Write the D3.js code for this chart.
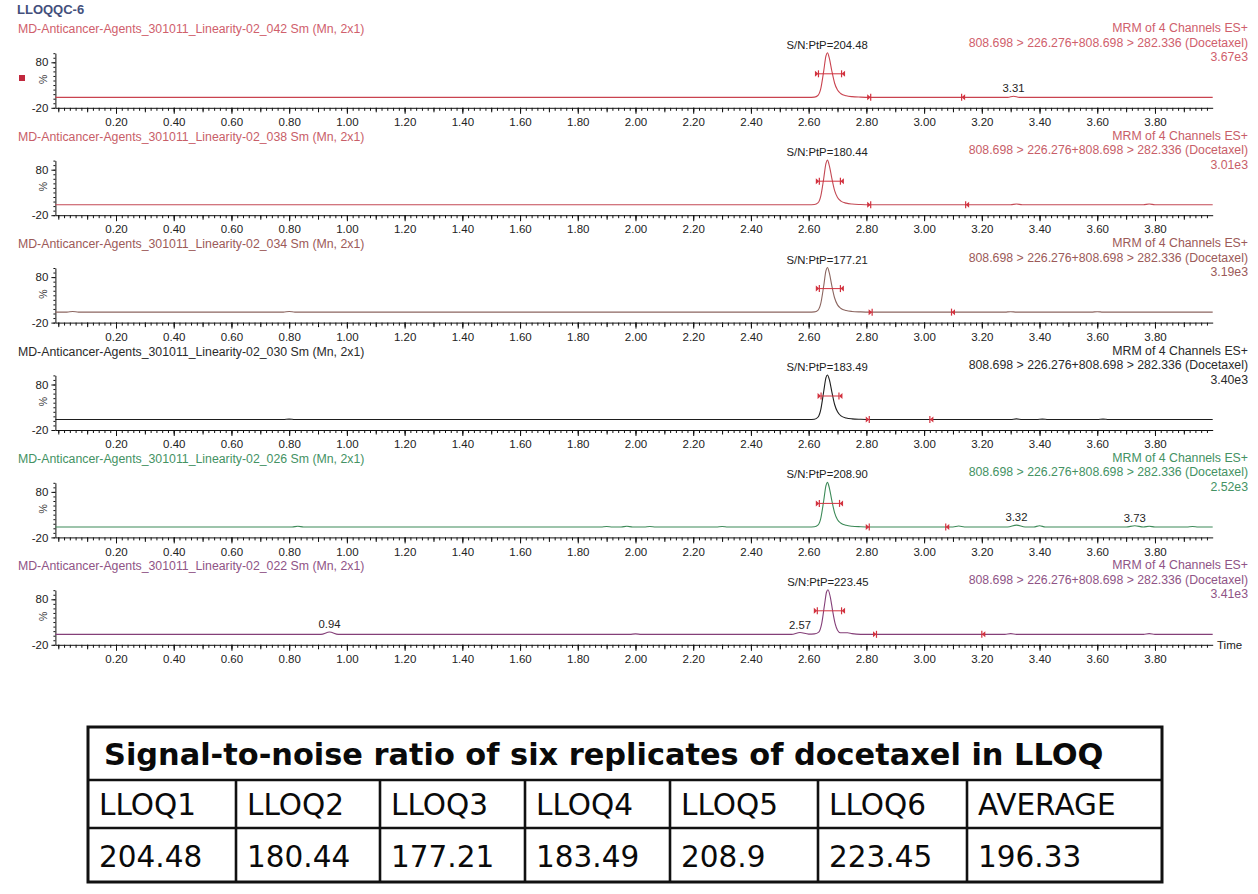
<!DOCTYPE html>
<html><head><meta charset="utf-8">
<script src="https://cdn.jsdelivr.net/npm/d3@7"></script>
<style>body{margin:0;background:#fff}svg{display:block}</style>
</head><body>
<svg id="c" width="1258" height="894"></svg>
<script>
// ---------------- DATA ----------------
const sampleTitle = "LLOQQC-6";
const runIds = ["042", "038", "034", "030", "026", "022"];
const channelName = "MRM of 4 Channels ES+";
const transition = "808.698 > 226.276+808.698 > 282.336 (Docetaxel)";
const intensities = ["3.67e3", "3.01e3", "3.19e3", "3.40e3", "2.52e3", "3.41e3"];
const snValues = ["204.48", "180.44", "177.21", "183.49", "208.90", "223.45"];
const peakApex = [2.664, 2.664, 2.664, 2.664, 2.664, 2.667];
const windowStart = [2.634, 2.637, 2.637, 2.643, 2.637, 2.630];
const windowEnd = [2.714, 2.710, 2.710, 2.705, 2.707, 2.714];
const baselineStart = [2.815, 2.815, 2.82, 2.81, 2.81, 2.835];
const baselineEnd = [3.13, 3.144, 3.095, 3.02, 3.075, 3.20];
const peakLabels = [
  [["3.31", 3.31]],
  [],
  [],
  [],
  [["3.32", 3.32], ["3.73", 3.73]],
  [["0.94", 0.94], ["2.57", 2.57]]
];
const xTickLabels = ["0.20","0.40","0.60","0.80","1.00","1.20","1.40","1.60","1.80","2.00",
                     "2.20","2.40","2.60","2.80","3.00","3.20","3.40","3.60","3.80"];
const yTickLabels = ["-20", "80"];

// chromatogram traces: [time (min), relative intensity (%)]
const trace042 = [[-0.01,3],[2.60,3],[2.62,3.5],[2.632,7],[2.642,22],[2.652,60],[2.66,94],[2.665,101],[2.672,88],
  [2.68,62],[2.69,34],[2.70,19],[2.712,11],[2.73,6.5],[2.75,4.5],[2.78,3.5],[2.81,3],[3.29,3],[3.31,5.5],[3.33,3],[4.0,3]];
const trace038 = [[-0.01,3],[2.60,3],[2.62,3.5],[2.632,7],[2.642,22],[2.652,60],[2.66,94],[2.665,101],[2.672,88],
  [2.68,62],[2.69,34],[2.70,19],[2.712,11],[2.73,6.5],[2.75,4.5],[2.78,3.5],[2.81,3],[3.30,3],[3.32,4.5],[3.34,3],
  [3.76,3],[3.78,4.5],[3.80,3],[4.0,3]];
const trace034 = [[-0.01,3],[0.03,3],[0.05,4.5],[0.07,3],[0.78,3],[0.80,4.5],[0.82,3],[2.60,3],[2.62,3.5],
  [2.632,7],[2.642,22],[2.652,60],[2.66,94],[2.665,101],[2.672,88],[2.68,62],[2.69,34],[2.70,19],[2.712,11],
  [2.73,6.5],[2.75,4.5],[2.78,3.5],[2.81,3],[3.28,3],[3.30,4],[3.32,3],[3.58,3],[3.60,4],[3.62,3],[4.0,3]];
const trace030 = [[-0.01,3],[0.78,3],[0.80,4],[0.82,3],[2.60,3],[2.62,3.5],[2.632,8],[2.642,25],[2.652,64],
  [2.66,95],[2.665,101],[2.672,90],[2.68,65],[2.69,36],[2.70,20],[2.712,11],[2.73,6.5],[2.75,4.5],[2.78,3.5],[2.81,3],[3.30,3],
  [3.32,4.5],[3.34,3],[3.39,3],[3.41,4],[3.43,3],[3.60,3],[3.62,4],[3.64,3],[4.0,3]];
const trace026 = [[-0.01,3],[0.81,3],[0.83,4.5],[0.85,3],[1.88,3],[1.90,4],[1.92,3],[1.95,3],[1.97,4.5],
  [1.99,3],[2.03,3],[2.05,4],[2.07,3],[2.28,3],[2.30,4],[2.32,3],[2.60,3],[2.62,3.5],[2.632,7],[2.642,22],
  [2.652,60],[2.66,94],[2.665,101],[2.672,88],[2.68,62],[2.69,34],[2.70,19],[2.712,11],[2.73,6.5],[2.75,4.5],[2.78,3.5],[2.81,3],
  [3.10,3],[3.12,5],[3.14,3],[3.29,3],[3.32,7],[3.35,3],[3.38,3],[3.40,5.5],[3.42,3],[3.70,3],[3.73,5.5],
  [3.76,3],[3.78,4.5],[3.80,3],[3.91,3],[3.93,4],[3.95,3],[4.0,3]];
const trace022 = [[-0.01,3],[0.91,3],[0.94,8],[0.97,3],[1.98,3],[2.00,4],[2.02,3],[2.54,3],[2.57,7],[2.60,3.5],
  [2.62,4],[2.635,8],[2.645,26],[2.655,68],[2.662,96],[2.667,101],[2.675,85],[2.683,55],[2.692,26],[2.70,12],[2.71,6.5],
  [2.72,6.5],[2.735,6.5],[2.75,4.5],[2.78,3],[3.28,3],[3.30,4.5],[3.32,3],[3.76,3],[3.78,4.5],[3.80,3],[4.0,3]];
const traces = [trace042, trace038, trace034, trace030, trace026, trace022];

const tableTitle = "Signal-to-noise ratio of six replicates of docetaxel in LLOQ";
const tableHeaders = ["LLOQ1", "LLOQ2", "LLOQ3", "LLOQ4", "LLOQ5", "LLOQ6", "AVERAGE"];
const tableValues = ["204.48", "180.44", "177.21", "183.49", "208.9", "223.45", "196.33"];

// ---------------- STYLE ----------------
const headColors  = ["#d0606c", "#c85e68", "#9c5a58", "#2a2a2a", "#449263", "#8f5486"];
const traceColors = ["#c9434f", "#c34a55", "#8c6660", "#1e1e1e", "#3d8a58", "#843f78"];
const markColor = "#d2323f";
const chartFont = "'Liberation Sans', Arial, sans-serif";
const tableFont = "'DejaVu Sans', Verdana, sans-serif";

const svg = d3.select("#c");
const x = d3.scaleLinear().domain([-0.01, 4.0]).range([55.4, 1212.7]);

svg.append("text").attr("x", 17).attr("y", 14).text(sampleTitle)
  .attr("font-family", chartFont).attr("font-weight", "bold").attr("font-size", 13)
  .attr("fill", "#44507c");

svg.append("rect").attr("x", 19).attr("y", 75).attr("width", 6).attr("height", 6).attr("fill", "#c1283d");

const PANEL_STEP = 107.4;

traces.forEach((tr, i) => {
  const ct = 29.3 + i * PANEL_STEP;
  const axisY = ct + 78.5;
  const y = d3.scaleLinear().domain([-20, 100]).range([axisY, axisY - 120 * 0.455]);
  const g = svg.append("g");

  // headers
  g.append("text").attr("x", 18).attr("y", ct + 4)
    .text(`MD-Anticancer-Agents_301011_Linearity-02_${runIds[i]} Sm (Mn, 2x1)`)
    .attr("font-family", chartFont).attr("font-size", 12.3).attr("fill", headColors[i]);
  [channelName, transition, intensities[i]].forEach((s, k) => {
    g.append("text").attr("x", 1248).attr("y", ct + 3 + k * 14.5).attr("text-anchor", "end")
      .text(s).attr("font-family", chartFont).attr("font-size", 12.3).attr("fill", headColors[i]);
  });

  // x axis: minor, medium, major
  const minor = g.append("g").attr("transform", `translate(0,${axisY})`)
    .call(d3.axisBottom(x).tickValues(d3.range(0, 200).map(k => k * 0.02)).tickSize(3).tickFormat(""));
  minor.select(".domain").remove();
  const mid = g.append("g").attr("transform", `translate(0,${axisY})`)
    .call(d3.axisBottom(x).tickValues(d3.range(0, 40).map(k => k * 0.1)).tickSize(4.5).tickFormat(""));
  mid.select(".domain").remove();
  const xa = g.append("g").attr("transform", `translate(0,${axisY})`)
    .call(d3.axisBottom(x).tickValues(xTickLabels.map(Number)).tickFormat((d, j) => xTickLabels[j])
      .tickSize(6).tickSizeOuter(0).tickPadding(4));
  xa.selectAll("text").attr("font-family", chartFont).attr("font-size", 11.5).attr("fill", "#222");
  g.selectAll(".tick line").attr("stroke", "#111");
  xa.select(".domain").attr("stroke", "#111");

  // y axis
  const ym = g.append("g").attr("transform", `translate(55.4,0)`)
    .call(d3.axisLeft(y).tickValues(d3.range(-20, 101, 10)).tickSize(2).tickFormat(""));
  ym.select(".domain").remove();
  const ya = g.append("g").attr("transform", `translate(55.4,0)`)
    .call(d3.axisLeft(y).tickValues(yTickLabels.map(Number)).tickFormat((d, j) => yTickLabels[j])
      .tickSize(4).tickSizeOuter(0).tickPadding(3));
  ya.selectAll("text").attr("font-family", chartFont).attr("font-size", 11.5).attr("fill", "#222");
  ya.select(".domain").attr("stroke", "#111");
  g.selectAll(".tick line").attr("stroke", "#111");
  g.append("text").attr("transform", `translate(47,${ct + 50}) rotate(-90)`).attr("text-anchor", "middle")
    .text("%").attr("font-family", chartFont).attr("font-size", 10.5).attr("fill", "#333");

  // trace
  const line = d3.line().x(d => x(d[0])).y(d => y(d[1])).curve(d3.curveMonotoneX);
  g.append("path").datum(tr).attr("d", line).attr("fill", "none")
    .attr("stroke", traceColors[i]).attr("stroke-width", 1.1);

  // S/N label
  g.append("text").attr("x", x(peakApex[i])).attr("y", ct + 19.5).attr("text-anchor", "middle")
    .text(`S/N:PtP=${snValues[i]}`).attr("font-family", chartFont).attr("font-size", 11.3).attr("fill", "#222");

  // integration window marker
  const wy = ct + 44.5;
  const x1 = x(windowStart[i]), x2 = x(windowEnd[i]);
  g.append("line").attr("x1", x1).attr("x2", x2).attr("y1", wy).attr("y2", wy)
    .attr("stroke", markColor).attr("stroke-width", 1);
  [[x1, 1], [x2, -1]].forEach(([xx, dir]) => {
    g.append("line").attr("x1", xx).attr("x2", xx).attr("y1", wy - 3.5).attr("y2", wy + 3.5)
      .attr("stroke", markColor).attr("stroke-width", 1.2);
    g.append("path").attr("d", `M${xx - dir * 3.5},${wy - 3}L${xx},${wy}L${xx - dir * 3.5},${wy + 3}Z`)
      .attr("fill", markColor);
  });

  // baseline markers
  const valueAt = t => {
    const j = d3.bisector(d => d[0]).left(tr, t);
    const a = tr[Math.max(0, j - 1)], b = tr[Math.min(tr.length - 1, j)];
    return b[0] === a[0] ? a[1] : a[1] + (b[1] - a[1]) * (t - a[0]) / (b[0] - a[0]);
  };
  [[baselineStart[i], 1], [baselineEnd[i], -1]].forEach(([t, dir]) => {
    const bx = x(t), by = y(valueAt(t));
    g.append("line").attr("x1", bx).attr("x2", bx).attr("y1", by - 3.5).attr("y2", by + 3.5)
      .attr("stroke", markColor).attr("stroke-width", 1.2);
    g.append("path").attr("d", `M${bx - dir * 3.5},${by - 3}L${bx},${by}L${bx - dir * 3.5},${by + 3}Z`)
      .attr("fill", markColor);
  });

  // peak retention-time labels
  peakLabels[i].forEach(([lab, t]) => {
    const top = d3.max(tr.filter(d => Math.abs(d[0] - t) < 0.025), d => d[1]);
    g.append("text").attr("x", x(t)).attr("y", y(top) - 4).attr("text-anchor", "middle")
      .text(lab).attr("font-family", chartFont).attr("font-size", 11.3).attr("fill", "#222");
  });

  if (i === traces.length - 1) {
    g.append("text").attr("x", 1217).attr("y", axisY + 4).text("Time")
      .attr("font-family", chartFont).attr("font-size", 11.5).attr("fill", "#222");
  }
});

// ---------------- TABLE ----------------
const colEdges = [88, 236, 380, 525, 670, 818, 967, 1162];
const rowEdges = [727, 780, 828, 882];
const tg = svg.append("g");
tg.append("rect").attr("x", colEdges[0]).attr("y", rowEdges[0])
  .attr("width", colEdges[7] - colEdges[0]).attr("height", rowEdges[3] - rowEdges[0])
  .attr("fill", "none").attr("stroke", "#111").attr("stroke-width", 3);
[rowEdges[1], rowEdges[2]].forEach(ry => {
  tg.append("line").attr("x1", colEdges[0]).attr("x2", colEdges[7]).attr("y1", ry).attr("y2", ry)
    .attr("stroke", "#111").attr("stroke-width", 2.6);
});
colEdges.slice(1, 7).forEach(cx => {
  tg.append("line").attr("x1", cx).attr("x2", cx).attr("y1", rowEdges[1]).attr("y2", rowEdges[3])
    .attr("stroke", "#111").attr("stroke-width", 2.6);
});
const tt = tg.append("text").attr("x", 104).attr("y", 765).text(tableTitle)
  .attr("font-family", tableFont).attr("font-weight", "bold").attr("font-size", 28).attr("fill", "#0a0a0a");
const w = tt.node().getComputedTextLength();
tt.attr("font-size", 28 * 1000 / w);

tableHeaders.forEach((h, j) => {
  tg.append("text").attr("x", colEdges[j] + 11).attr("y", 815).text(h)
    .attr("font-family", tableFont).attr("font-size", 29.5).attr("fill", "#0a0a0a");
});
tableValues.forEach((v, j) => {
  tg.append("text").attr("x", colEdges[j] + 11).attr("y", 867).text(v)
    .attr("font-family", tableFont).attr("font-size", 29.5).attr("fill", "#0a0a0a");
});
</script>
</body></html>
